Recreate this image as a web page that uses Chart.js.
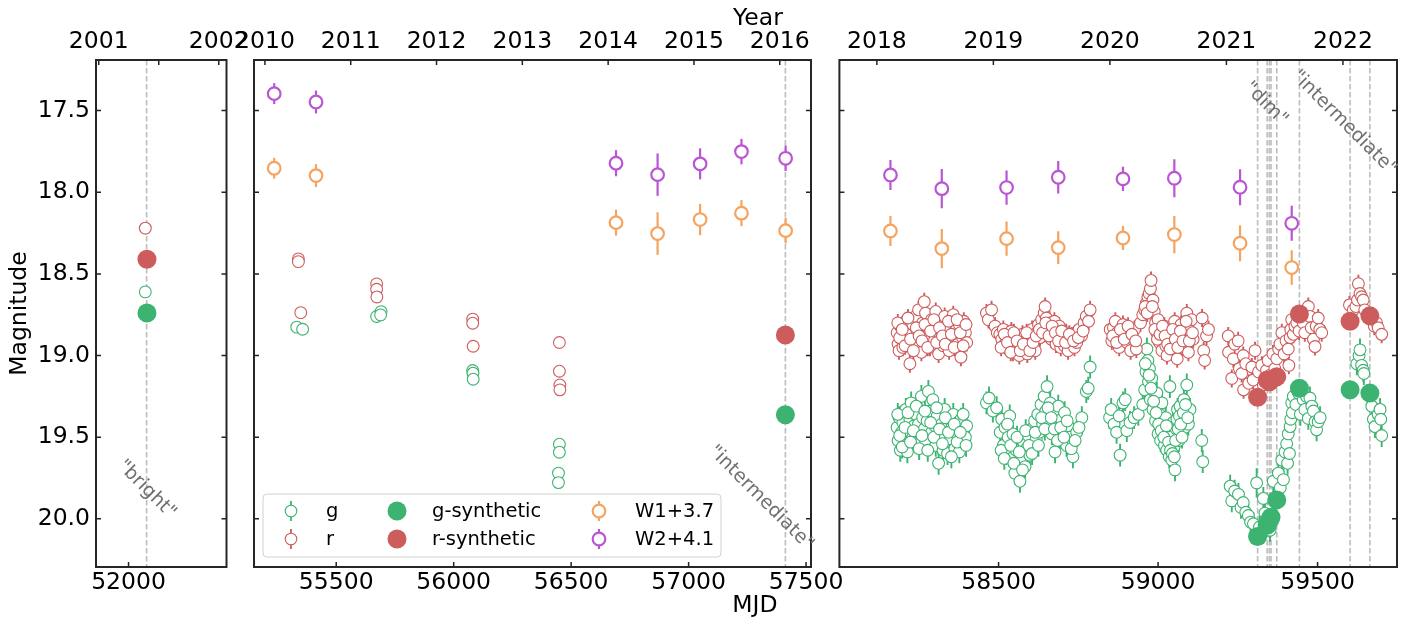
<!DOCTYPE html>
<html>
<head>
<meta charset="utf-8">
<script src="https://cdn.jsdelivr.net/npm/chart.js@4.4.0/dist/chart.umd.min.js"></script>
<style>
  html, body { margin: 0; padding: 0; background: #fff; }
  #wrap { position: relative; width: 1409px; height: 624px; }
  #wrap canvas { position: absolute; left: 0; top: 0; }
</style>
</head>
<body>
<div id="wrap">
  <canvas id="p1" width="1409" height="624"></canvas>
  <canvas id="p2" width="1409" height="624"></canvas>
  <canvas id="p3" width="1409" height="624"></canvas>
</div>
<script>
// ---- data: [MJD, magnitude(, error)] ----
const gObs = [
  [52051, 18.61],
  [55332, 18.826], [55357, 18.839], [55672, 18.761], [55691, 18.731], [55689, 18.751],
  [56081, 19.092], [56082, 19.108], [56083, 19.145],
  [56450, 19.543], [56450, 19.592], [56446, 19.72], [56446, 19.778],
  // 2018
  [58182, 19.44], [58185, 19.52], [58188, 19.38], [58192, 19.58], [58196, 19.47], [58200, 19.41],
  [58205, 19.55], [58209, 19.33], [58214, 19.59], [58218, 19.46], [58222, 19.39], [58226, 19.29],
  [58231, 19.50], [58235, 19.43], [58240, 19.36], [58244, 19.53], [58249, 19.42], [58253, 19.48],
  [58258, 19.25], [58262, 19.38], [58267, 19.45], [58271, 19.52], [58276, 19.40], [58280, 19.22],
  [58285, 19.34], [58290, 19.47], [58294, 19.27], [58299, 19.43], [58303, 19.55], [58308, 19.37],
  [58312, 19.66], [58317, 19.49], [58322, 19.42], [58326, 19.58], [58331, 19.33], [58335, 19.45],
  [58340, 19.60], [58345, 19.39], [58349, 19.51], [58354, 19.44], [58358, 19.36], [58363, 19.57],
  [58368, 19.48], [58372, 19.41], [58377, 19.59], [58382, 19.39], [58387, 19.52], [58391, 19.46],
  [58396, 19.50], [58400, 19.43],
  [58184, 19.36], [58190, 19.49], [58198, 19.56], [58207, 19.44], [58216, 19.35], [58224, 19.53],
  [58233, 19.46], [58242, 19.31], [58251, 19.57], [58260, 19.49], [58269, 19.34], [58278, 19.58],
  [58287, 19.41], [58297, 19.50], [58306, 19.32], [58315, 19.45], [58324, 19.54], [58333, 19.38],
  [58343, 19.47], [58352, 19.62], [58361, 19.42], [58370, 19.53], [58380, 19.47], [58389, 19.36],
  [58398, 19.55],
  // 2019
  [58462, 19.29], [58470, 19.26], [58482, 19.34], [58494, 19.32], [58505, 19.47], [58510, 19.39],
  [58515, 19.55], [58520, 19.44], [58525, 19.60], [58530, 19.50], [58535, 19.37], [58540, 19.63],
  [58545, 19.48], [58551, 19.72], [58555, 19.58], [58560, 19.66], [58567, 19.77], [58572, 19.62],
  [58578, 19.53], [58583, 19.68], [58588, 19.57], [58593, 19.49], [58598, 19.61], [58603, 19.45],
  [58608, 19.55], [58613, 19.40], [58618, 19.51], [58623, 19.36], [58628, 19.47], [58633, 19.30],
  [58638, 19.42], [58643, 19.25], [58648, 19.34], [58652, 19.19], [58657, 19.40], [58662, 19.29],
  [58667, 19.48], [58672, 19.36], [58677, 19.59], [58682, 19.44], [58687, 19.31], [58692, 19.52],
  [58697, 19.39], [58702, 19.46], [58707, 19.35], [58713, 19.55], [58718, 19.43], [58724, 19.50],
  [58733, 19.62], [58735, 19.53], [58745, 19.47], [58761, 19.38], [58775, 19.22], [58781, 19.20],
  [58787, 19.07],
  [58508, 19.58], [58518, 19.63], [58528, 19.42], [58538, 19.55], [58548, 19.66], [58558, 19.50],
  [58565, 19.59], [58575, 19.70], [58585, 19.46], [58595, 19.55], [58605, 19.60], [58615, 19.47],
  [58625, 19.55], [58635, 19.38], [58645, 19.45], [58655, 19.32], [58665, 19.38], [58675, 19.45],
  [58685, 19.52], [58695, 19.44], [58705, 19.50], [58715, 19.40], [58728, 19.57], [58740, 19.52],
  [58752, 19.44],
  // 2020
  [58848, 19.38], [58853, 19.33], [58862, 19.42], [58870, 19.47], [58878, 19.37], [58881, 19.61],
  [58890, 19.29], [58897, 19.27], [58902, 19.46], [58912, 19.41], [58925, 19.38], [58938, 19.36],
  [58952, 19.30], [58958, 19.21], [58962, 19.10], [58965, 18.96], [58968, 19.03], [58970, 19.16],
  [58973, 19.08], [58976, 19.27], [58980, 19.14], [58984, 19.33], [58988, 19.22], [58992, 19.40],
  [58996, 19.23], [59000, 19.48], [59004, 19.36], [59008, 19.52], [59012, 19.29], [59016, 19.44],
  [59020, 19.55], [59024, 19.38], [59027, 19.58], [59031, 19.47], [59035, 19.62], [59037, 19.19],
  [59040, 19.50], [59043, 19.64], [59047, 19.41], [59050, 19.56], [59053, 19.70], [59057, 19.45],
  [59061, 19.33], [59065, 19.52], [59069, 19.31], [59073, 19.47], [59077, 19.39], [59081, 19.27],
  [59084, 19.44], [59088, 19.36], [59090, 19.18], [59095, 19.42], [59100, 19.33],
  [58960, 19.05], [58972, 19.12], [58978, 19.20], [58986, 19.28], [58994, 19.35], [59002, 19.42],
  [59010, 19.46], [59018, 19.50], [59026, 19.43], [59033, 19.53], [59039, 19.58], [59045, 19.60],
  [59051, 19.62], [59055, 19.52], [59059, 19.39], [59063, 19.45], [59067, 19.37], [59071, 19.42],
  [59075, 19.50], [59079, 19.35], [59086, 19.30], [59093, 19.38],
  [59137, 19.52], [59140, 19.65],
  // 2021 dim phase and recovery
  [59226, 19.80], [59231, 19.89], [59240, 19.83], [59252, 19.85], [59260, 19.93], [59267, 19.90],
  [59275, 19.96], [59283, 19.98], [59290, 20.02], [59299, 20.03], [59309, 19.78, 0.09], [59318, 20.05],
  [59330, 19.875], [59335, 19.965], [59345, 20.04], [59351, 20.07], [59358, 19.98], [59361, 19.77],
  [59368, 19.88], [59377, 19.72], [59383, 19.81], [59388, 19.64], [59393, 19.76], [59398, 19.59],
  [59403, 19.54], [59406, 19.66], [59408, 19.48], [59412, 19.60], [59414, 19.435], [59416, 19.39],
  [59419, 19.29], [59421, 19.35], [59424, 19.25],
  [59432, 19.30], [59440, 19.23], [59446, 19.36], [59455, 19.27], [59460, 19.33], [59465, 19.25],
  [59471, 19.385], [59476, 19.26], [59482, 19.31], [59487, 19.34], [59492, 19.405], [59497, 19.455],
  [59502, 19.405], [59508, 19.38],
  // 2022
  [59623, 19.05], [59630, 19.00], [59633, 18.965], [59638, 19.06], [59643, 19.09], [59645, 19.11],
  [59670, 19.31], [59675, 19.39], [59680, 19.435], [59690, 19.36], [59696, 19.33], [59698, 19.39],
  [59701, 19.49]
];

const rObs = [
  [52051, 18.22],
  [55339, 18.408], [55339, 18.425], [55349, 18.737],
  [55672, 18.561], [55672, 18.594], [55673, 18.641],
  [56081, 18.777], [56081, 18.802], [56083, 18.943],
  [56450, 18.92], [56450, 19.096], [56452, 19.18], [56452, 19.21],
  // 2018
  [58182, 18.86], [58185, 18.93], [58188, 18.97], [58192, 18.82], [58196, 18.90], [58200, 18.95],
  [58205, 18.88], [58209, 18.79], [58214, 18.84], [58218, 18.92], [58222, 19.05], [58226, 18.87],
  [58231, 18.81], [58235, 18.90], [58240, 18.76], [58244, 18.85], [58249, 18.72], [58253, 18.93],
  [58258, 18.98], [58262, 18.80], [58267, 18.67], [58271, 18.74], [58276, 18.88], [58280, 18.83],
  [58285, 18.95], [58290, 18.78], [58294, 18.86], [58299, 18.91], [58303, 18.73], [58308, 18.84],
  [58312, 18.99], [58317, 18.89], [58322, 18.80], [58326, 18.94], [58331, 18.76], [58335, 18.86],
  [58340, 18.82], [58345, 18.97], [58349, 18.90], [58354, 18.79], [58358, 18.75], [58363, 18.88],
  [58368, 18.84], [58372, 18.93], [58377, 18.81], [58382, 19.01], [58387, 18.89], [58391, 18.79],
  [58396, 18.86], [58400, 18.92],
  [58184, 18.80], [58190, 18.89], [58198, 18.84], [58207, 18.94], [58216, 18.77], [58224, 18.90],
  [58233, 18.97], [58242, 18.83], [58251, 18.88], [58260, 18.91], [58269, 18.81], [58278, 18.95],
  [58287, 18.85], [58297, 18.78], [58306, 18.92], [58315, 18.83], [58324, 18.88], [58333, 18.93],
  [58343, 18.79], [58352, 18.87], [58361, 18.95], [58370, 18.78], [58380, 18.86], [58389, 18.94],
  [58398, 18.81],
  // 2019
  [58462, 18.74], [58468, 18.78], [58478, 18.72], [58489, 18.82], [58496, 18.86], [58504, 18.87],
  [58510, 18.90], [58515, 18.84], [58520, 18.93], [58525, 18.88], [58530, 18.96], [58535, 18.91],
  [58540, 18.85], [58545, 18.98], [58550, 18.93], [58555, 18.89], [58560, 18.95], [58565, 19.00],
  [58570, 18.92], [58575, 18.87], [58580, 18.96], [58585, 18.91], [58590, 18.99], [58595, 18.88],
  [58600, 18.94], [58605, 18.84], [58610, 18.90], [58615, 18.97], [58620, 18.86], [58625, 18.81],
  [58630, 18.89], [58635, 18.78], [58640, 18.83], [58643, 18.74], [58646, 18.70], [58650, 18.77],
  [58655, 18.85], [58660, 18.80], [58665, 18.90], [58670, 18.84], [58675, 18.79], [58680, 18.93],
  [58685, 18.87], [58690, 18.82], [58695, 18.95], [58700, 18.89], [58706, 18.94], [58712, 18.86],
  [58718, 18.97], [58724, 18.91], [58730, 18.88], [58738, 18.95], [58745, 18.92], [58752, 18.84],
  [58760, 18.88], [58768, 18.80], [58775, 18.76], [58782, 18.79], [58787, 18.72],
  [58508, 18.95], [58518, 18.87], [58528, 18.92], [58538, 18.98], [58548, 18.86], [58558, 18.91],
  [58568, 18.97], [58578, 18.93], [58588, 18.86], [58598, 18.97], [58608, 18.92], [58618, 18.88],
  [58628, 18.84], [58638, 18.86], [58648, 18.80], [58658, 18.88], [58668, 18.82], [58678, 18.86],
  [58688, 18.91], [58698, 18.85], [58710, 18.92], [58722, 18.87], [58735, 18.91], [58750, 18.89],
  [58765, 18.85],
  // 2020
  [58850, 18.84], [58855, 18.91], [58860, 18.83], [58866, 18.79], [58872, 18.86], [58878, 18.95],
  [58884, 18.88], [58890, 18.81], [58896, 18.84], [58902, 18.92], [58908, 18.86], [58914, 18.97],
  [58920, 18.90], [58926, 18.84], [58932, 18.96], [58945, 18.80], [58952, 18.75], [58958, 18.72],
  [58963, 18.68], [58968, 18.64], [58972, 18.62], [58976, 18.59], [58978, 18.54], [58984, 18.66],
  [58988, 18.73], [58992, 18.80], [58996, 18.86], [59000, 18.78], [59004, 18.92], [59008, 18.84],
  [59012, 18.97], [59016, 18.89], [59020, 18.82], [59024, 18.94], [59028, 19.00], [59032, 18.87],
  [59036, 18.91], [59040, 18.83], [59044, 18.96], [59048, 18.88], [59052, 18.79], [59056, 18.93],
  [59060, 19.02], [59064, 18.86], [59068, 18.90], [59072, 18.81], [59076, 18.95], [59080, 18.87],
  [59085, 18.84], [59090, 18.74], [59095, 18.98], [59100, 18.85], [59105, 18.78], [59110, 18.90],
  [58858, 18.88], [58870, 18.92], [58882, 18.84], [58894, 18.90], [58906, 18.82], [58918, 18.87],
  [58930, 18.91], [58960, 18.70], [58966, 18.74], [58982, 18.70], [58990, 18.84], [58998, 18.90],
  [59006, 18.87], [59014, 18.82], [59022, 18.88], [59030, 18.93], [59038, 18.96], [59046, 18.84],
  [59054, 18.90], [59062, 18.95], [59070, 18.85], [59078, 18.91], [59088, 18.79], [59098, 18.91],
  [59108, 18.86],
  [59138, 18.77], [59143, 18.97], [59146, 19.03], [59152, 18.88], [59158, 18.84],
  // 2021 dim phase and recovery
  [59220, 18.88], [59221, 18.98], [59231, 19.14], [59236, 19.02], [59240, 18.93], [59251, 18.91],
  [59255, 19.08], [59262, 19.11], [59267, 19.00], [59268, 19.21], [59275, 19.05], [59284, 19.17],
  [59294, 19.07], [59298, 19.15], [59304, 18.97], [59315, 19.10], [59325, 19.06], [59330, 19.18],
  [59335, 19.15], [59340, 19.09], [59345, 19.03], [59352, 19.12], [59360, 18.99], [59366, 19.08],
  [59372, 19.02], [59378, 18.96], [59382, 18.93], [59388, 18.86], [59395, 18.99], [59401, 18.91],
  [59408, 18.96], [59410, 19.06], [59414, 18.89], [59416, 18.84], [59419, 18.78], [59424, 18.87],
  [59429, 18.82],
  [59435, 18.80], [59442, 18.85], [59448, 18.76], [59455, 18.80], [59460, 18.86], [59466, 18.74],
  [59471, 18.70], [59476, 18.76], [59480, 18.83], [59487, 18.90], [59492, 18.945], [59496, 18.82],
  [59502, 18.77], [59507, 18.84], [59513, 18.86],
  // 2022
  [59600, 18.69], [59612, 18.72], [59620, 18.70], [59625, 18.66], [59628, 18.56], [59633, 18.62],
  [59638, 18.64], [59643, 18.66], [59648, 18.72], [59660, 18.76], [59670, 18.78], [59678, 18.82],
  [59685, 18.80], [59690, 18.83], [59701, 18.87]
];

const gSynth = [[52056, 18.74], [57412, 19.363], [59312, 20.108], [59342, 20.04], [59349, 20.01],
  [59354, 19.99], [59372, 19.884], [59443, 19.20], [59602, 19.21], [59664, 19.23]];
const rSynth = [[52056, 18.41], [57412, 18.874], [59312, 19.255], [59342, 19.15], [59349, 19.16],
  [59354, 19.15], [59372, 19.13], [59443, 18.745], [59602, 18.79], [59664, 18.757]];

const w1 = [[55236, 17.853, 0.064], [55414, 17.898, 0.07], [56691, 18.186, 0.08], [56868, 18.253, 0.13],
  [57049, 18.167, 0.096], [57225, 18.128, 0.08], [57413, 18.235, 0.078],
  [58161, 18.237, 0.092], [58322, 18.345, 0.12], [58525, 18.284, 0.105], [58687, 18.339, 0.1],
  [58890, 18.28, 0.074], [59051, 18.259, 0.114], [59257, 18.312, 0.11], [59419, 18.461, 0.106]];
const w2 = [[55236, 17.396, 0.064], [55414, 17.447, 0.07], [56691, 17.822, 0.08], [56868, 17.892, 0.13],
  [57049, 17.826, 0.095], [57225, 17.751, 0.078], [57413, 17.792, 0.078],
  [58161, 17.894, 0.092], [58322, 17.978, 0.12], [58525, 17.971, 0.105], [58687, 17.908, 0.1],
  [58890, 17.918, 0.075], [59051, 17.914, 0.116], [59257, 17.969, 0.11], [59419, 18.19, 0.107]];

// dates of the spectra (dashed lines)
const specDates = [52055, 57412, 59312, 59342, 59349, 59354, 59372, 59443, 59602, 59664];

const magTicks = [17.5, 18.0, 18.5, 19.0, 19.5, 20.0];
const mjdTicks = [[52000], [55500, 56000, 56500, 57000, 57500], [58500, 59000, 59500]];
const yearTicks = [[2001, 2001.5, 2002], [2010, 2011, 2012, 2013, 2014, 2015, 2016], [2018, 2019, 2020, 2021, 2022]];

const ERR_OLD = 0.015, ERR_ZTF_G = 0.07, ERR_ZTF_R = 0.055;

const GREEN = '#3cb371', RED = '#cd5c5c', ORANGE = '#f4a460', PURPLE = '#ba55d3';
const FONT = "'DejaVu Sans', sans-serif";
const TICK_SIZE = 23.5;

Chart.defaults.font.family = FONT;

const yr = m => 2000 + (m - 51544) / 365.25;

// panel layout (pixel box of each plot area and its MJD range)
const panels = [
  {id: 'p1', idx: 0, mjd: [51901, 52298], left: 96, right: 226.5, yLabels: true,
   texts: [{x: 52055, y: 19.82, t: '"bright"'}]},
  {id: 'p2', idx: 1, mjd: [55150, 57521], left: 254, right: 811, legend: true,
   texts: [{x: 57308, y: 19.873, t: '"intermediate"'}]},
  {id: 'p3', idx: 2, mjd: [58001, 59749], left: 839.4, right: 1397,
   texts: [{x: 59338, y: 17.459, t: '"dim"'}, {x: 59583, y: 17.575, t: '"intermediate"'}]}
];

const legendItems = [
  {label: 'g', color: GREEN, kind: 'open', col: 0, row: 0},
  {label: 'r', color: RED, kind: 'open', col: 0, row: 1},
  {label: 'g-synthetic', color: GREEN, kind: 'filled', col: 1, row: 0},
  {label: 'r-synthetic', color: RED, kind: 'filled', col: 1, row: 1},
  {label: 'W1+3.7', color: ORANGE, kind: 'wise', col: 2, row: 0},
  {label: 'W2+4.1', color: PURPLE, kind: 'wise', col: 2, row: 1}
];

function drawMarker(ctx, kind, color, cx, cy) {
  ctx.save();
  if (kind === 'filled') {
    ctx.fillStyle = color;
    ctx.beginPath(); ctx.arc(cx, cy, 9.5, 0, Math.PI * 2); ctx.fill();
  } else {
    const lw = kind === 'wise' ? 2.2 : 1.8;
    const r = kind === 'wise' ? 6.3 : 5.8;
    ctx.strokeStyle = color; ctx.lineWidth = lw;
    ctx.beginPath(); ctx.moveTo(cx, cy - 10); ctx.lineTo(cx, cy + 10); ctx.stroke();
    ctx.fillStyle = '#fff'; ctx.lineWidth = kind === 'wise' ? 2.2 : 1.1;
    ctx.beginPath(); ctx.arc(cx, cy, r, 0, Math.PI * 2); ctx.fill(); ctx.stroke();
  }
  ctx.restore();
}

function drawLegend(ctx) {
  const L = 263, T = 494, R = 721, B = 557;
  ctx.save();
  ctx.beginPath();
  ctx.roundRect(L, T, R - L, B - T, 4);
  ctx.fillStyle = 'rgba(255,255,255,0.85)';
  ctx.fill();
  ctx.strokeStyle = '#d0d0d0'; ctx.lineWidth = 1;
  ctx.stroke();
  const markX = [291, 397, 599], textX = [326, 432, 635], rowY = [511, 539];
  ctx.font = '19.5px ' + FONT;
  ctx.textBaseline = 'middle'; ctx.textAlign = 'left';
  legendItems.forEach(it => {
    drawMarker(ctx, it.kind, it.color, markX[it.col], rowY[it.row]);
    ctx.fillStyle = '#000';
    ctx.fillText(it.label, textX[it.col], rowY[it.row] + 1);
  });
  ctx.restore();
}

function makeExtras(p) {
  return {
    id: 'extras',
    beforeDatasetsDraw(chart) {
      const {ctx, chartArea: a} = chart;
      const x = chart.scales.x;
      ctx.save();
      ctx.beginPath(); ctx.rect(a.left, a.top, a.width, a.height); ctx.clip();
      ctx.strokeStyle = '#bdbdbd'; ctx.lineWidth = 1.6; ctx.setLineDash([5.5, 2.5]);
      specDates.filter(m => m >= p.mjd[0] && m <= p.mjd[1]).forEach(m => {
        const px = x.getPixelForValue(m);
        ctx.beginPath(); ctx.moveTo(px, a.top); ctx.lineTo(px, a.bottom); ctx.stroke();
      });
      ctx.restore();
    },
    beforeDatasetDraw(chart, args) {
      const ds = chart.data.datasets[args.index];
      if (!ds.errWidth) return;
      const {ctx, chartArea: a, scales: {x, y}} = chart;
      ctx.save();
      ctx.beginPath(); ctx.rect(a.left, a.top, a.width, a.height); ctx.clip();
      ctx.strokeStyle = ds.borderColor; ctx.lineWidth = ds.errWidth;
      ds.data.forEach(d => {
        const px = x.getPixelForValue(d.x);
        ctx.beginPath();
        ctx.moveTo(px, y.getPixelForValue(d.y - d.err));
        ctx.lineTo(px, y.getPixelForValue(d.y + d.err));
        ctx.stroke();
      });
      ctx.restore();
    },
    afterDraw(chart) {
      const {ctx, chartArea: a, scales} = chart;
      const tl = 5;
      ctx.save();
      // inward ticks on all four sides
      ctx.strokeStyle = '#222'; ctx.lineWidth = 1.5;
      ctx.beginPath();
      scales.x.ticks.forEach(t => {
        const px = scales.x.getPixelForValue(t.value);
        ctx.moveTo(px, a.bottom); ctx.lineTo(px, a.bottom - tl);
      });
      scales.xTop.ticks.forEach(t => {
        const px = scales.xTop.getPixelForValue(t.value);
        ctx.moveTo(px, a.top); ctx.lineTo(px, a.top + tl);
      });
      scales.y.ticks.forEach(t => {
        const py = scales.y.getPixelForValue(t.value);
        ctx.moveTo(a.left, py); ctx.lineTo(a.left + tl, py);
        ctx.moveTo(a.right, py); ctx.lineTo(a.right - tl, py);
      });
      ctx.stroke();
      // frame
      ctx.strokeStyle = '#262626'; ctx.lineWidth = 2;
      ctx.strokeRect(a.left, a.top, a.width, a.height);
      // state annotations
      ctx.fillStyle = '#707070';
      ctx.font = '19px ' + FONT;
      ctx.textAlign = 'center'; ctx.textBaseline = 'middle';
      p.texts.forEach(tx => {
        ctx.save();
        ctx.translate(scales.x.getPixelForValue(tx.x), scales.y.getPixelForValue(tx.y));
        ctx.rotate(Math.PI / 4);
        ctx.fillText(tx.t, 0, 0);
        ctx.restore();
      });
      // axis titles
      ctx.fillStyle = '#000';
      ctx.font = TICK_SIZE + 'px ' + FONT;
      if (p.yLabels) {
        ctx.save();
        ctx.translate(20, (a.top + a.bottom) / 2);
        ctx.rotate(-Math.PI / 2);
        ctx.fillText('Magnitude', 0, 0);
        ctx.restore();
      }
      if (p.legend) {
        ctx.fillText('Year', 758, 19);
        ctx.fillText('MJD', 755, 606);
        drawLegend(ctx);
      }
      ctx.restore();
    }
  };
}

function buildChart(p) {
  const inRange = arr => arr.filter(d => d[0] >= p.mjd[0] && d[0] <= p.mjd[1]);
  const toPts = (arr, errFor) => inRange(arr).map(d => ({x: d[0], y: d[1], err: d.length > 2 ? d[2] : errFor(d[0])}));
  const open = (label, arr, color, errFor) => ({
    label, data: toPts(arr, errFor), borderColor: color, backgroundColor: '#fff',
    pointRadius: 5.9, borderWidth: 1.1, errWidth: 1.9
  });
  const wise = (label, arr, color) => ({
    label, data: toPts(arr, () => 0), borderColor: color, backgroundColor: '#fff',
    pointRadius: 6.3, borderWidth: 2.2, errWidth: 2.2
  });
  const synth = (label, arr, color) => ({
    label, data: toPts(arr, () => 0), borderColor: color, backgroundColor: color,
    pointRadius: 9.5, borderWidth: 0
  });
  // first dataset is drawn last (on top)
  const datasets = [
    synth('g-synthetic', gSynth, GREEN),
    synth('r-synthetic', rSynth, RED),
    wise('W2+4.1', w2, PURPLE),
    wise('W1+3.7', w1, ORANGE),
    open('r', rObs, RED, m => m > 58000 ? ERR_ZTF_R : ERR_OLD),
    open('g', gObs, GREEN, m => m > 58000 ? ERR_ZTF_G : ERR_OLD)
  ];
  const tickFont = {size: TICK_SIZE, family: FONT};
  new Chart(document.getElementById(p.id), {
    type: 'scatter',
    data: {datasets},
    options: {
      responsive: false,
      animation: false,
      devicePixelRatio: 1,
      layout: {padding: {left: p.yLabels ? 0 : p.left, right: 1409 - p.right, top: 0, bottom: 0}},
      plugins: {legend: {display: false}, tooltip: {enabled: false}},
      elements: {point: {pointStyle: 'circle', hoverRadius: 0}},
      scales: {
        x: {
          type: 'linear', position: 'bottom', min: p.mjd[0], max: p.mjd[1],
          grid: {display: false, drawTicks: false}, border: {display: false},
          afterBuildTicks: s => { s.ticks = mjdTicks[p.idx].map(v => ({value: v})); },
          afterFit: s => { s.height = 57; },
          ticks: {font: tickFont, color: '#000', padding: 2, autoSkip: false, maxRotation: 0,
                  callback: v => String(v)}
        },
        xTop: {
          type: 'linear', position: 'top', min: yr(p.mjd[0]), max: yr(p.mjd[1]),
          grid: {display: false, drawTicks: false}, border: {display: false},
          afterBuildTicks: s => { s.ticks = yearTicks[p.idx].map(v => ({value: v})); },
          afterFit: s => { s.height = 60; },
          ticks: {font: tickFont, color: '#000', padding: 4, autoSkip: false, maxRotation: 0,
                  callback: v => Number.isInteger(v) ? String(v) : ''}
        },
        y: {
          type: 'linear', position: 'left', reverse: true, min: 17.19, max: 20.295,
          grid: {display: false, drawTicks: false}, border: {display: false},
          afterBuildTicks: s => { s.ticks = magTicks.map(v => ({value: v})); },
          afterFit: s => { s.width = p.yLabels ? p.left : 0; },
          ticks: {display: !!p.yLabels, font: tickFont, color: '#000', padding: 6,
                  callback: v => v.toFixed(1)}
        }
      }
    },
    plugins: [makeExtras(p)]
  });
}

panels.forEach(buildChart);
</script>
</body>
</html>
